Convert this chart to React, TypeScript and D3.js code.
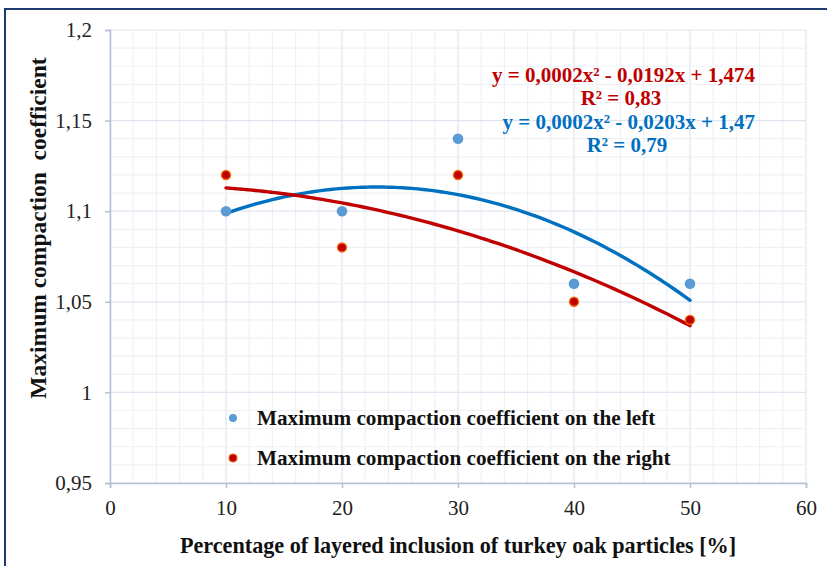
import { useEffect, useRef } from 'react';
import * as d3 from 'd3';

const inclusion = [10, 20, 30, 40, 50];
const leftValues = [1.1, 1.1, 1.14, 1.06, 1.06];
const rightValues = [1.12, 1.08, 1.12, 1.05, 1.04];
const xTicks = [0, 10, 20, 30, 40, 50, 60];
const yTicks = [0.95, 1, 1.05, 1.1, 1.15, 1.2];

const rightEquation = ['y = 0,0002x² - 0,0192x + 1,474', 'R² = 0,83'];
const leftEquation = ['y = 0,0002x² - 0,0203x + 1,47', 'R² = 0,79'];

// least squares quadratic, like the spreadsheet trendline
function quadFit(xs: number[], ys: number[]) {
  const n = xs.length;
  const s = (f: (x: number, y: number) => number) => d3.sum(xs, (x, i) => f(x, ys[i]));
  const sx = s((x) => x), sx2 = s((x) => x * x), sx3 = s((x) => x ** 3), sx4 = s((x) => x ** 4);
  const sy = s((_, y) => y), sxy = s((x, y) => x * y), sx2y = s((x, y) => x * x * y);
  const m = [
    [n, sx, sx2, sy],
    [sx, sx2, sx3, sxy],
    [sx2, sx3, sx4, sx2y],
  ];
  for (let i = 0; i < 3; i++) {
    for (let k = i + 1; k < 3; k++) {
      const f = m[k][i] / m[i][i];
      for (let j = i; j < 4; j++) m[k][j] -= f * m[i][j];
    }
  }
  const c = [0, 0, 0];
  for (let i = 2; i >= 0; i--) {
    let v = m[i][3];
    for (let j = i + 1; j < 3; j++) v -= m[i][j] * c[j];
    c[i] = v / m[i][i];
  }
  return (x: number) => c[0] + c[1] * x + c[2] * x * x;
}

export default function App() {
  const svgRef = useRef<SVGSVGElement>(null);
  const width = 827;
  const height = 566;

  useEffect(() => {
    if (!svgRef.current) return;
    const svg = d3.select(svgRef.current);
    svg.selectAll('*').remove();

    const serif = '"Liberation Serif", "Times New Roman", serif';
    const margin = { top: 30, right: 21, bottom: 83, left: 110 };
    const w = width - margin.left - margin.right;
    const h = height - margin.top - margin.bottom;

    svg.append('rect').attr('width', width).attr('height', height).attr('fill', '#fff');
    // outer chart frame
    svg.append('rect')
      .attr('x', 5).attr('y', 9)
      .attr('width', width + 10).attr('height', height + 10)
      .attr('fill', 'none').attr('stroke', '#1f3a6e').attr('stroke-width', 2);

    const g = svg.append('g').attr('transform', `translate(${margin.left},${margin.top})`);

    const x = d3.scaleLinear().domain([0, 60]).range([0, w]);
    const y = d3.scaleLinear().domain([0.95, 1.2]).range([h, 0]);

    // minor grid
    g.append('g').selectAll('line')
      .data(d3.range(0, 60.001, 2))
      .join('line')
      .attr('x1', (d) => x(d)).attr('x2', (d) => x(d))
      .attr('y1', 0).attr('y2', h)
      .attr('stroke', (d) => (d % 10 === 0 ? '#dfe5ef' : '#eef1f6'))
      .attr('stroke-width', 1.2);
    g.append('g').selectAll('line')
      .data(d3.range(0, 25.001, 1))
      .join('line')
      .attr('x1', 0).attr('x2', w)
      .attr('y1', (d) => y(0.95 + d * 0.01)).attr('y2', (d) => y(0.95 + d * 0.01))
      .attr('stroke', (d) => (Math.round(d) % 5 === 0 ? '#dfe5ef' : '#eef1f6'))
      .attr('stroke-width', 1.2);

    const axisColor = '#b3c0d6';
    const xAxis = g.append('g')
      .attr('transform', `translate(0,${h})`)
      .call(d3.axisBottom(x).tickValues(xTicks).tickSize(5).tickPadding(12).tickFormat((d) => `${d}`));
    const yAxis = g.append('g')
      .call(d3.axisLeft(y).tickValues(yTicks).tickSize(5).tickPadding(13)
        .tickFormat((d) => `${d}`.replace('.', ',')));
    [xAxis, yAxis].forEach((a) => {
      a.attr('font-family', serif).attr('font-size', 21);
      a.select('.domain').attr('stroke', axisColor).attr('stroke-width', 1.5);
      a.selectAll('.tick line').attr('stroke', axisColor).attr('stroke-width', 1.5);
      a.selectAll('.tick text').attr('fill', '#222');
    });

    // trendlines
    const series = [
      { values: leftValues, line: '#0070c0' },
      { values: rightValues, line: '#c00000' },
    ];
    series.forEach((s) => {
      const f = quadFit(inclusion, s.values);
      const pts = d3.range(10, 50.001, 0.5).map((v) => [v, f(v)] as [number, number]);
      g.append('path')
        .datum(pts)
        .attr('fill', 'none')
        .attr('stroke', s.line)
        .attr('stroke-width', 3.4)
        .attr('stroke-linecap', 'round')
        .attr('d', d3.line().x((d) => x(d[0])).y((d) => y(d[1])).curve(d3.curveMonotoneX));
    });

    // markers
    g.append('g').selectAll('circle')
      .data(inclusion)
      .join('circle')
      .attr('cx', (d) => x(d)).attr('cy', (_, i) => y(leftValues[i]))
      .attr('r', 5.3).attr('fill', '#5b9bd5');
    g.append('g').selectAll('circle')
      .data(inclusion)
      .join('circle')
      .attr('cx', (d) => x(d)).attr('cy', (_, i) => y(rightValues[i]))
      .attr('r', 4.5).attr('fill', '#c00000')
      .attr('stroke', '#f0680a').attr('stroke-width', 1.4);

    // equations
    const eq = (lines: string[], color: string, top: number, rx: number, cx: number) => {
      g.append('text').text(lines[0])
        .attr('x', rx).attr('y', top).attr('text-anchor', 'end')
        .attr('fill', color).style('font-family', serif)
        .style('font-size', '21px').style('font-weight', 'bold');
      g.append('text').text(lines[1])
        .attr('x', cx).attr('y', top + 23).attr('text-anchor', 'middle')
        .attr('fill', color).style('font-family', serif)
        .style('font-size', '21px').style('font-weight', 'bold');
    };
    eq(rightEquation, '#c00000', 52, 645, 511);
    eq(leftEquation, '#0070c0', 99, 645, 517);

    // legend
    const legend = [
      { label: 'Maximum compaction coefficient on the left', fill: '#5b9bd5', stroke: 'none' },
      { label: 'Maximum compaction coefficient on the right', fill: '#c00000', stroke: '#f0680a' },
    ];
    legend.forEach((l, i) => {
      const ly = 418 + i * 40;
      svg.append('circle')
        .attr('cx', 233).attr('cy', ly).attr('r', 4)
        .attr('fill', l.fill).attr('stroke', l.stroke).attr('stroke-width', 1.2);
      svg.append('text').text(l.label)
        .attr('x', 257).attr('y', ly + 7)
        .attr('fill', '#111').style('font-family', serif)
        .style('font-size', '21.2px').style('font-weight', 'bold');
    });

    // axis titles
    svg.append('text')
      .text('Percentage of layered inclusion of turkey oak particles [%]')
      .attr('x', 458).attr('y', 553).attr('text-anchor', 'middle')
      .attr('fill', '#111').style('font-family', serif)
      .style('font-size', '22.2px').style('font-weight', 'bold');
    svg.append('text')
      .text('Maximum compaction  coefficient')
      .attr('xml:space', 'preserve')
      .attr('transform', 'translate(46,228) rotate(-90)')
      .attr('text-anchor', 'middle')
      .attr('fill', '#111').style('font-family', serif)
      .style('font-size', '23.5px').style('font-weight', 'bold');
  }, []);

  return (
    <svg
      ref={svgRef}
      width={width}
      height={height}
      style={{ position: 'absolute', left: 0, top: 0, display: 'block' }}
    />
  );
}
